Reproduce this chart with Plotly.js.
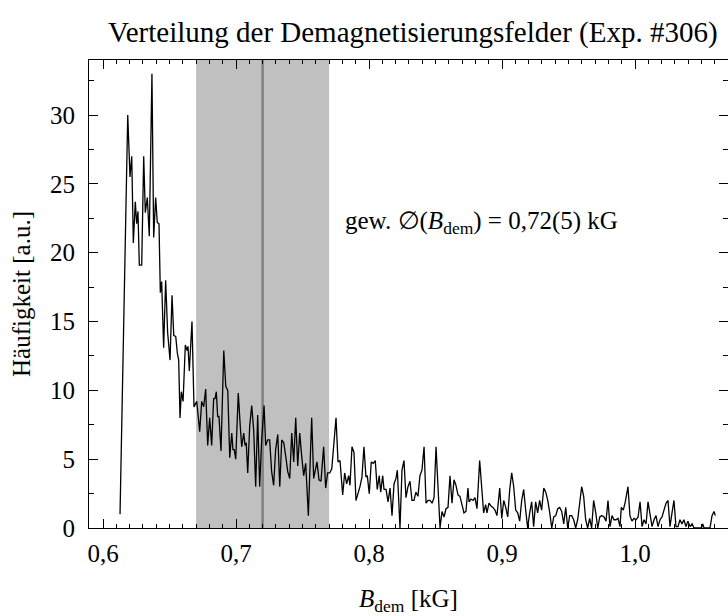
<!DOCTYPE html>
<html><head><meta charset="utf-8">
<script src="https://cdn.plot.ly/plotly-3.0.1.min.js"></script>
<style>html,body{margin:0;padding:0;overflow:hidden;background:#fff}</style>
</head><body><div id="plot" style="width:728px;height:616px"></div>
<script>
const bdem = [0.6128,0.6186,0.6203,0.6216,0.6228,0.6243,0.6253,0.6263,0.6273,0.6291,0.6306,0.6318,0.6333,0.6348,0.6368,0.6381,0.6396,0.6408,0.6421,0.6431,0.6441,0.6456,0.6471,0.6486,0.6504,0.6519,0.6532,0.6547,0.6559,0.6569,0.6579,0.6589,0.6602,0.6619,0.6632,0.6639,0.6649,0.6669,0.6684,
0.6705,0.6727,0.6742,0.6757,0.6772,0.6787,0.6802,0.6817,0.6832,0.6842,0.6852,0.6862,0.6872,0.6887,0.6908,0.6923,0.6938,0.6953,0.6968,0.6977,0.6987,0.6998,0.7017,0.7032,0.7043,0.7058,0.7068,0.7077,0.7088,0.7103,0.7118,0.7133,0.7148,0.7163,0.7178,0.7193,0.7211,0.7223,0.7238,0.7253,0.7268,0.7283,0.7298,0.7314,0.7329,0.7344,0.7359,0.7374,0.7389,0.7404,0.7419,0.7434,0.7449,0.7464,0.7479,0.7494,0.7509,0.7524,0.7544,0.7559,0.7569,0.7584,0.7599,0.7609,0.7624,0.7639,0.7659,0.7674,0.7689,0.7705,0.7720,0.7739,
0.7752,0.7767,0.7782,0.7802,0.7817,0.7832,0.7847,0.7857,0.7872,0.7887,0.7902,0.7917,0.7932,0.7947,0.7962,0.7977,0.7987,0.8002,0.8017,0.8032,0.8047,0.8062,0.8077,0.8088,0.8103,0.8113,0.8128,0.8143,0.8158,0.8173,0.8188,0.8203,0.8213,0.8233,0.8248,0.8263,0.8278,0.8293,0.8308,0.8323,0.8338,0.8353,0.8368,0.8383,0.8398,0.8414,0.8429,0.8444,0.8459,0.8474,0.8489,0.8504,0.8519,0.8534,0.8549,0.8564,0.8579,0.8594,0.8609,0.8624,0.8639,0.8654,0.8669,0.8684,0.8699,0.8714,0.8729,0.8744,
0.8752,0.8767,0.8782,0.8797,0.8812,0.8832,0.8847,0.8862,0.8877,0.8887,0.8902,0.8917,0.8932,0.8947,0.8962,0.8983,0.8998,0.9013,0.9028,0.9043,0.9058,0.9073,0.9088,0.9103,0.9118,0.9133,0.9148,0.9163,0.9178,0.9193,0.9208,0.9223,0.9238,0.9253,0.9268,0.9283,0.9298,0.9314,0.9329,0.9344,0.9359,0.9374,0.9389,0.9404,0.9419,0.9434,0.9449,0.9464,0.9479,0.9494,0.9509,0.9524,0.9539,0.9554,0.9569,0.9584,0.9599,0.9614,0.9629,0.9644,0.9659,0.9674,0.9689,0.9705,0.9720,0.9735,0.9750,
0.9767,0.9782,0.9797,0.9812,0.9827,0.9842,0.9857,0.9872,0.9887,0.9897,0.9912,0.9927,0.9947,0.9962,0.9977,0.9992,1.0008,1.0023,1.0038,1.0053,1.0068,1.0083,1.0098,1.0113,1.0128,1.0143,1.0158,1.0173,1.0188,1.0203,1.0218,1.0233,1.0248,1.0263,1.0278,1.0293,1.0308,1.0323,1.0338,1.0353,1.0368,1.0383,1.0398,1.0414,1.0429,1.0444,1.0466,1.0500,1.0509,1.0519,1.0564,1.0579,1.0594,1.0604];
const haeufigkeit = [1.0,30.0,25.5,27.0,20.7,23.7,22.1,23.0,19.1,19.1,27.0,22.9,24.0,21.2,33.0,21.1,24.0,22.2,22.1,17.1,17.9,13.1,18.0,14.2,12.2,16.9,14.0,13.9,12.7,12.2,8.0,9.9,9.2,13.3,12.9,13.2,11.4,15.0,8.8,
9.2,7.0,9.2,8.8,10.1,6.0,8.0,6.0,9.4,9.4,9.9,8.1,8.1,5.6,12.9,10.3,10.0,5.1,6.9,5.7,5.7,5.0,9.8,7.4,5.9,6.9,6.0,6.2,4.0,7.4,8.9,7.1,3.0,8.2,3.0,6.4,8.9,6.0,6.4,6.4,4.1,3.1,5.7,6.8,3.0,6.4,6.2,5.2,4.1,3.6,6.9,4.8,8.0,4.5,6.9,5.2,3.8,4.7,0.9,5.2,8.0,3.6,4.2,4.8,3.5,3.4,5.9,2.9,4.0,4.0,4.3,6.4,
8.0,4.8,4.9,2.4,4.0,3.2,3.8,3.1,5.9,5.5,2.0,2.5,3.0,3.7,5.9,3.7,3.8,2.5,4.8,4.7,4.9,2.8,3.8,2.6,3.8,2.8,2.8,1.9,2.9,0.9,3.2,3.6,4.2,0,4.2,4.9,2.2,3.0,3.4,2.0,2.0,2.6,2.3,3.8,4.2,5.9,1.8,2.0,2.0,1.8,2.2,5.9,3.2,0,1.2,0.8,1.4,1.5,3.8,1.8,3.5,3.1,2.4,2.3,1.7,1.1,1.2,2.9,
1.9,2.1,2.0,2.2,1.4,4.9,3.0,1.1,1.7,1.1,1.8,1.6,1.5,1.3,0.9,2.9,0.7,2.0,1.5,0.8,2.8,4.0,3.0,1.3,1.1,0.5,2.0,2.8,1.3,0,1.1,1.9,0.1,1.9,1.1,2.0,1.3,2.9,2.6,2.0,1.1,0,0.8,0.9,1.4,1.5,1.2,0.3,1.5,0,0.9,0.9,0.6,0,0.6,2.0,3.0,2.3,0.6,0,0.7,0,2.0,1.1,0,0.8,0.9,
0.8,0.5,2.0,0.1,0.9,0.6,0.6,0.7,0.1,1.5,1.3,1.9,3.0,0.9,0.5,0.7,0.6,0.8,1.9,0.1,0.6,0.3,1.9,0.8,0.1,0.6,0.9,0.1,0.6,0.8,1.4,1.8,2.0,0.1,1.1,2.0,0.1,0.1,0.6,0.3,0.6,0.1,0.5,0.1,0.3,0,0,0,0.3,0,0,0.9,1.2,0.9];
const bandLow = 0.67, bandHigh = 0.77, meanValue = 0.72;
const titleText = 'Verteilung der Demagnetisierungsfelder (Exp. #306)';
const annText = 'gew. \u2205(<i>B</i><sub>dem</sub>) = 0,72(5) kG';
const xTickVals = [0.6,0.7,0.8,0.9,1.0];
const yTickVals = [0,5,10,15,20,25,30];

const font = 'Liberation Serif, Times New Roman, serif';
const trace = {x: bdem, y: haeufigkeit, type: 'scatter', mode: 'lines',
  line: {color: '#000', width: 1.3}, hoverinfo: 'skip'};

const axisCommon = {showline: true, linecolor: '#000', linewidth: 1, mirror: 'allticks',
  ticks: 'inside', tickcolor: '#000', showgrid: false, zeroline: false,
  tickfont: {family: font, size: 25, color: '#000'}};

const layout = {
  width: 728, height: 616,
  margin: {l: 89, r: 0, t: 60, b: 88},
  paper_bgcolor: '#fff', plot_bgcolor: 'rgba(0,0,0,0)',
  separators: ',.',
  showlegend: false,
  title: {text: titleText, font: {family: font, size: 29, color: '#000'},
    x: 0.567, xanchor: 'center', y: 0.948, yanchor: 'middle'},
  xaxis: Object.assign({}, axisCommon, {
    range: [0.58947, 1.06992], tickvals: xTickVals, tickformat: '.1f', ticklen: 9,
    ticklabelstandoff: 3,
    minor: {dtick: 0.01, tick0: 0.6, ticklen: 4, ticks: 'inside', tickcolor: '#000'},
    title: {text: '<i>B</i><sub>dem</sub> [kG]', font: {family: font, size: 25, color: '#000'}, standoff: 26}
  }),
  yaxis: Object.assign({}, axisCommon, {
    range: [0, 34], tickvals: yTickVals, ticklen: 9,
    ticklabelstandoff: 8,
    minor: {dtick: 2.5, tick0: 0, ticklen: 5, ticks: 'inside', tickcolor: '#000'},
    title: {text: 'Häufigkeit [a.u.]', font: {family: font, size: 25, color: '#000'}, standoff: 12}
  }),
  shapes: [
    {type: 'rect', xref: 'x', yref: 'paper', x0: bandLow, x1: bandHigh, y0: 0, y1: 1,
      fillcolor: '#c0c0c0', line: {width: 0}, layer: 'below'},
    {type: 'line', xref: 'x', yref: 'paper', x0: meanValue, x1: meanValue, y0: 0, y1: 1,
      line: {color: '#808080', width: 2.5}, layer: 'below'}
  ],
  annotations: [
    {x: 0.7805, y: 22.2, xref: 'x', yref: 'y', xanchor: 'left', yanchor: 'middle',
      text: annText, showarrow: false, font: {family: font, size: 25, color: '#000'}}
  ]
};
Plotly.newPlot('plot', [trace], layout, {displayModeBar: false, staticPlot: true});
</script></body></html>
